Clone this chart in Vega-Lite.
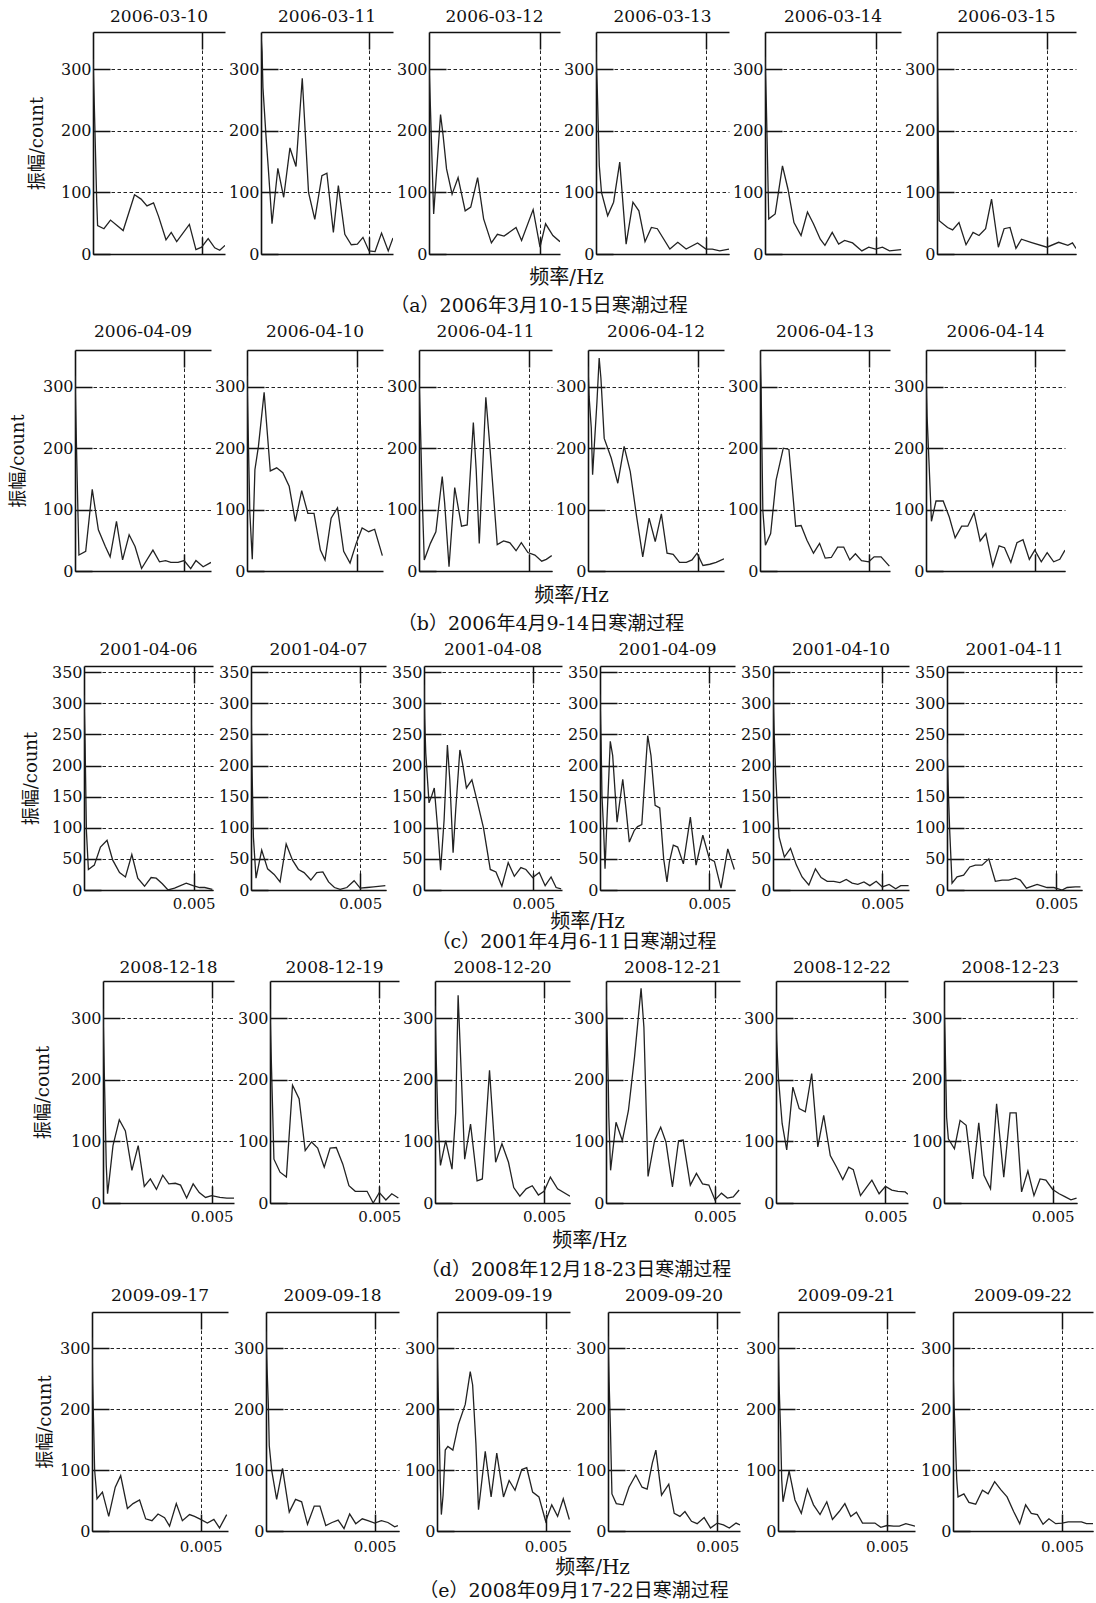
{
"$schema":"https://vega.github.io/schema/vega-lite/v6.json",
"background":"white",
"padding":{"left":9,"top":8,"right":4,"bottom":0},
"spacing":7,
"datasets":{
"2006-03-10":[{"f":0,"a":316},{"f":0.00006,"a":241},{"f":0.00017,"a":85},{"f":0.00021,"a":46},{"f":0.0005,"a":41},{"f":0.0008,"a":55},{"f":0.00138,"a":38},{"f":0.0019,"a":96},{"f":0.0022,"a":89},{"f":0.00247,"a":78},{"f":0.00277,"a":83},{"f":0.003,"a":61},{"f":0.00334,"a":23},{"f":0.00358,"a":35},{"f":0.00383,"a":20},{"f":0.00441,"a":48},{"f":0.00471,"a":7},{"f":0.00497,"a":11},{"f":0.00527,"a":25},{"f":0.00557,"a":10},{"f":0.0058,"a":6},{"f":0.00604,"a":14}],
"2006-03-11":[{"f":0,"a":355},{"f":0.00005,"a":327},{"f":0.00009,"a":270},{"f":0.00023,"a":192},{"f":0.00034,"a":138},{"f":0.00051,"a":49},{"f":0.00078,"a":139},{"f":0.00105,"a":92},{"f":0.00134,"a":172},{"f":0.00162,"a":142},{"f":0.00191,"a":285},{"f":0.0022,"a":100},{"f":0.00249,"a":56},{"f":0.00282,"a":127},{"f":0.00305,"a":131},{"f":0.00335,"a":35},{"f":0.00358,"a":111},{"f":0.00388,"a":32},{"f":0.00418,"a":15},{"f":0.00446,"a":16},{"f":0.00472,"a":27},{"f":0.005,"a":5},{"f":0.00528,"a":4},{"f":0.00558,"a":34},{"f":0.00589,"a":5},{"f":0.00611,"a":26}],
"2006-03-12":[{"f":0,"a":308},{"f":0.00006,"a":242},{"f":0.00021,"a":65},{"f":0.00052,"a":226},{"f":0.00063,"a":194},{"f":0.00079,"a":138},{"f":0.00104,"a":97},{"f":0.00131,"a":124},{"f":0.00163,"a":70},{"f":0.00188,"a":76},{"f":0.00219,"a":124},{"f":0.00246,"a":57},{"f":0.00281,"a":18},{"f":0.00308,"a":32},{"f":0.00338,"a":29},{"f":0.00365,"a":36},{"f":0.00392,"a":43},{"f":0.00417,"a":22},{"f":0.00469,"a":72},{"f":0.005,"a":11},{"f":0.00525,"a":49},{"f":0.00558,"a":30},{"f":0.0059,"a":20}],
"2006-03-13":[{"f":0,"a":328},{"f":0.00006,"a":265},{"f":0.00015,"a":143},{"f":0.00025,"a":100},{"f":0.00053,"a":62},{"f":0.0008,"a":84},{"f":0.00108,"a":149},{"f":0.00137,"a":16},{"f":0.00168,"a":84},{"f":0.00195,"a":70},{"f":0.00223,"a":20},{"f":0.00252,"a":43},{"f":0.00279,"a":41},{"f":0.00336,"a":8},{"f":0.00372,"a":19},{"f":0.0041,"a":8},{"f":0.00462,"a":18},{"f":0.005,"a":8},{"f":0.00529,"a":8},{"f":0.00563,"a":5},{"f":0.00605,"a":8}],
"2006-03-14":[{"f":0,"a":320},{"f":0.00006,"a":243},{"f":0.00017,"a":57},{"f":0.00046,"a":65},{"f":0.00079,"a":143},{"f":0.00104,"a":105},{"f":0.00131,"a":51},{"f":0.00163,"a":30},{"f":0.00192,"a":68},{"f":0.00219,"a":49},{"f":0.0025,"a":24},{"f":0.00271,"a":14},{"f":0.00304,"a":35},{"f":0.00333,"a":16},{"f":0.0036,"a":22},{"f":0.00396,"a":18},{"f":0.00438,"a":5},{"f":0.00469,"a":11},{"f":0.005,"a":8},{"f":0.00531,"a":11},{"f":0.00563,"a":5},{"f":0.00615,"a":7}],
"2006-03-15":[{"f":0,"a":357},{"f":0.0001,"a":54},{"f":0.00048,"a":43},{"f":0.00071,"a":39},{"f":0.001,"a":51},{"f":0.00132,"a":15},{"f":0.00164,"a":35},{"f":0.00191,"a":30},{"f":0.00221,"a":41},{"f":0.00248,"a":89},{"f":0.00279,"a":11},{"f":0.00305,"a":41},{"f":0.00332,"a":43},{"f":0.00359,"a":9},{"f":0.00384,"a":24},{"f":0.00427,"a":19},{"f":0.005,"a":11},{"f":0.00553,"a":19},{"f":0.00595,"a":14},{"f":0.00616,"a":18},{"f":0.00632,"a":9}],
"2006-04-09":[{"f":0,"a":318},{"f":0.00005,"a":233},{"f":0.0001,"a":149},{"f":0.00018,"a":26},{"f":0.00049,"a":32},{"f":0.00079,"a":133},{"f":0.00107,"a":67},{"f":0.00139,"a":40},{"f":0.00161,"a":23},{"f":0.0019,"a":81},{"f":0.00218,"a":18},{"f":0.00248,"a":59},{"f":0.00275,"a":40},{"f":0.00305,"a":4},{"f":0.00357,"a":34},{"f":0.00387,"a":15},{"f":0.00415,"a":17},{"f":0.00439,"a":14},{"f":0.00472,"a":14},{"f":0.005,"a":17},{"f":0.0053,"a":4},{"f":0.00554,"a":17},{"f":0.00587,"a":7},{"f":0.00623,"a":14}],
"2006-04-10":[{"f":0,"a":318},{"f":0.00005,"a":233},{"f":0.00013,"a":94},{"f":0.00024,"a":19},{"f":0.00036,"a":165},{"f":0.00052,"a":203},{"f":0.00078,"a":291},{"f":0.00106,"a":163},{"f":0.00135,"a":168},{"f":0.00163,"a":160},{"f":0.00192,"a":138},{"f":0.0022,"a":81},{"f":0.00249,"a":131},{"f":0.00277,"a":94},{"f":0.00305,"a":94},{"f":0.00334,"a":34},{"f":0.00355,"a":18},{"f":0.00383,"a":86},{"f":0.00412,"a":103},{"f":0.0044,"a":32},{"f":0.00469,"a":13},{"f":0.00497,"a":45},{"f":0.00524,"a":70},{"f":0.00554,"a":64},{"f":0.00581,"a":68},{"f":0.00616,"a":25}],
"2006-04-11":[{"f":0,"a":315},{"f":0.00007,"a":231},{"f":0.00015,"a":116},{"f":0.00024,"a":18},{"f":0.00052,"a":45},{"f":0.00077,"a":64},{"f":0.00106,"a":154},{"f":0.00117,"a":111},{"f":0.00137,"a":7},{"f":0.00163,"a":136},{"f":0.00194,"a":73},{"f":0.0022,"a":75},{"f":0.00248,"a":242},{"f":0.00261,"a":165},{"f":0.00275,"a":45},{"f":0.00305,"a":283},{"f":0.00321,"a":214},{"f":0.00357,"a":43},{"f":0.00386,"a":49},{"f":0.00415,"a":46},{"f":0.00443,"a":33},{"f":0.00467,"a":46},{"f":0.00497,"a":30},{"f":0.00529,"a":26},{"f":0.0056,"a":16},{"f":0.00581,"a":19},{"f":0.00606,"a":25}],
"2006-04-12":[{"f":0,"a":333},{"f":0.00005,"a":284},{"f":0.00015,"a":233},{"f":0.00021,"a":157},{"f":0.00029,"a":205},{"f":0.00041,"a":276},{"f":0.00051,"a":347},{"f":0.00059,"a":314},{"f":0.00074,"a":216},{"f":0.00106,"a":184},{"f":0.00136,"a":143},{"f":0.00165,"a":203},{"f":0.00193,"a":162},{"f":0.00221,"a":91},{"f":0.0025,"a":23},{"f":0.00279,"a":86},{"f":0.00307,"a":48},{"f":0.00335,"a":93},{"f":0.00361,"a":29},{"f":0.00389,"a":27},{"f":0.00418,"a":14},{"f":0.00449,"a":14},{"f":0.00475,"a":18},{"f":0.00498,"a":29},{"f":0.00525,"a":9},{"f":0.00556,"a":11},{"f":0.00585,"a":14},{"f":0.00621,"a":20}],
"2006-04-13":[{"f":0,"a":360},{"f":0.00005,"a":300},{"f":0.00013,"a":99},{"f":0.00025,"a":42},{"f":0.00049,"a":61},{"f":0.00074,"a":148},{"f":0.00107,"a":200},{"f":0.00133,"a":198},{"f":0.00164,"a":73},{"f":0.00189,"a":74},{"f":0.00216,"a":50},{"f":0.00246,"a":29},{"f":0.00274,"a":45},{"f":0.003,"a":21},{"f":0.00328,"a":22},{"f":0.00357,"a":39},{"f":0.00385,"a":39},{"f":0.00413,"a":18},{"f":0.00439,"a":28},{"f":0.00467,"a":17},{"f":0.005,"a":15},{"f":0.00525,"a":23},{"f":0.00557,"a":23},{"f":0.00595,"a":8}],
"2006-04-14":[{"f":0,"a":322},{"f":0.00005,"a":252},{"f":0.00013,"a":184},{"f":0.00025,"a":81},{"f":0.00046,"a":114},{"f":0.00079,"a":114},{"f":0.00107,"a":88},{"f":0.00134,"a":54},{"f":0.00164,"a":73},{"f":0.00192,"a":73},{"f":0.00221,"a":95},{"f":0.00249,"a":49},{"f":0.00275,"a":61},{"f":0.00307,"a":8},{"f":0.00336,"a":41},{"f":0.00361,"a":38},{"f":0.0039,"a":14},{"f":0.00418,"a":46},{"f":0.00446,"a":51},{"f":0.00475,"a":19},{"f":0.005,"a":34},{"f":0.0053,"a":15},{"f":0.00557,"a":30},{"f":0.00587,"a":15},{"f":0.00615,"a":19},{"f":0.00639,"a":34}],
"2001-04-06":[{"f":0,"a":313},{"f":0.00005,"a":233},{"f":0.00011,"a":95},{"f":0.0002,"a":33},{"f":0.00047,"a":40},{"f":0.00075,"a":69},{"f":0.00105,"a":80},{"f":0.00131,"a":48},{"f":0.00162,"a":28},{"f":0.00189,"a":21},{"f":0.00218,"a":57},{"f":0.00245,"a":19},{"f":0.00276,"a":6},{"f":0.00306,"a":20},{"f":0.00329,"a":19},{"f":0.00357,"a":10},{"f":0.00383,"a":0},{"f":0.00413,"a":3},{"f":0.00466,"a":11},{"f":0.00497,"a":7},{"f":0.00527,"a":4},{"f":0.0055,"a":4},{"f":0.00585,"a":1}],
"2001-04-07":[{"f":0,"a":303},{"f":0.00005,"a":191},{"f":0.00011,"a":85},{"f":0.00023,"a":19},{"f":0.00049,"a":64},{"f":0.00076,"a":34},{"f":0.00106,"a":25},{"f":0.00133,"a":13},{"f":0.00161,"a":74},{"f":0.0019,"a":48},{"f":0.00217,"a":33},{"f":0.00243,"a":28},{"f":0.00274,"a":16},{"f":0.00301,"a":28},{"f":0.00329,"a":29},{"f":0.00355,"a":13},{"f":0.00382,"a":4},{"f":0.00408,"a":1},{"f":0.00439,"a":4},{"f":0.00472,"a":15},{"f":0.005,"a":3},{"f":0.00531,"a":4},{"f":0.00561,"a":5},{"f":0.00615,"a":7}],
"2001-04-08":[{"f":0,"a":330},{"f":0.00003,"a":276},{"f":0.00008,"a":220},{"f":0.00023,"a":140},{"f":0.00035,"a":151},{"f":0.00047,"a":164},{"f":0.00064,"a":92},{"f":0.00076,"a":32},{"f":0.00092,"a":113},{"f":0.00107,"a":233},{"f":0.00118,"a":177},{"f":0.00133,"a":60},{"f":0.00145,"a":129},{"f":0.00164,"a":225},{"f":0.00176,"a":204},{"f":0.00194,"a":164},{"f":0.00219,"a":177},{"f":0.00245,"a":140},{"f":0.00272,"a":100},{"f":0.00303,"a":33},{"f":0.00329,"a":29},{"f":0.00356,"a":6},{"f":0.00385,"a":44},{"f":0.00413,"a":22},{"f":0.00443,"a":36},{"f":0.00466,"a":33},{"f":0.00497,"a":20},{"f":0.00527,"a":28},{"f":0.00554,"a":7},{"f":0.00581,"a":21},{"f":0.00604,"a":4},{"f":0.00627,"a":2}],
"2001-04-09":[{"f":0,"a":314},{"f":0.00005,"a":236},{"f":0.00009,"a":152},{"f":0.00017,"a":93},{"f":0.00023,"a":34},{"f":0.00032,"a":114},{"f":0.00047,"a":239},{"f":0.00058,"a":216},{"f":0.00078,"a":109},{"f":0.00104,"a":178},{"f":0.00119,"a":130},{"f":0.00134,"a":77},{"f":0.00157,"a":96},{"f":0.00172,"a":102},{"f":0.00191,"a":105},{"f":0.00218,"a":248},{"f":0.00233,"a":216},{"f":0.00252,"a":136},{"f":0.00273,"a":132},{"f":0.00291,"a":50},{"f":0.00306,"a":13},{"f":0.00317,"a":45},{"f":0.00335,"a":72},{"f":0.00355,"a":69},{"f":0.00381,"a":42},{"f":0.00413,"a":117},{"f":0.00439,"a":40},{"f":0.0047,"a":88},{"f":0.005,"a":50},{"f":0.00523,"a":46},{"f":0.00553,"a":3},{"f":0.00584,"a":66},{"f":0.00614,"a":33}],
"2001-04-10":[{"f":0,"a":326},{"f":0.00005,"a":257},{"f":0.00012,"a":188},{"f":0.00021,"a":122},{"f":0.00028,"a":85},{"f":0.00052,"a":53},{"f":0.0008,"a":67},{"f":0.00107,"a":40},{"f":0.00133,"a":21},{"f":0.00164,"a":8},{"f":0.00194,"a":34},{"f":0.0022,"a":20},{"f":0.00248,"a":14},{"f":0.00278,"a":14},{"f":0.00306,"a":12},{"f":0.00335,"a":17},{"f":0.00362,"a":11},{"f":0.00388,"a":9},{"f":0.00416,"a":13},{"f":0.00443,"a":7},{"f":0.00472,"a":14},{"f":0.005,"a":5},{"f":0.00531,"a":9},{"f":0.00561,"a":2},{"f":0.00584,"a":7},{"f":0.0062,"a":7}],
"2001-04-11":[{"f":0,"a":236},{"f":0.00005,"a":170},{"f":0.00012,"a":98},{"f":0.00023,"a":11},{"f":0.00046,"a":21},{"f":0.00076,"a":24},{"f":0.00104,"a":37},{"f":0.0013,"a":40},{"f":0.0016,"a":40},{"f":0.00191,"a":50},{"f":0.00221,"a":14},{"f":0.00252,"a":16},{"f":0.00282,"a":16},{"f":0.00313,"a":19},{"f":0.00335,"a":16},{"f":0.00363,"a":3},{"f":0.00412,"a":9},{"f":0.00457,"a":4},{"f":0.00488,"a":4},{"f":0.00526,"a":0},{"f":0.00549,"a":4},{"f":0.00587,"a":5},{"f":0.0061,"a":5}],
"2008-12-18":[{"f":0,"a":315},{"f":0.00005,"a":228},{"f":0.0001,"a":145},{"f":0.00015,"a":61},{"f":0.00021,"a":15},{"f":0.0003,"a":42},{"f":0.00046,"a":93},{"f":0.00075,"a":135},{"f":0.00103,"a":117},{"f":0.00133,"a":53},{"f":0.00162,"a":93},{"f":0.0019,"a":27},{"f":0.00218,"a":39},{"f":0.00246,"a":22},{"f":0.00275,"a":45},{"f":0.00303,"a":31},{"f":0.00333,"a":32},{"f":0.00357,"a":29},{"f":0.00385,"a":8},{"f":0.00415,"a":31},{"f":0.00443,"a":17},{"f":0.00472,"a":9},{"f":0.005,"a":12},{"f":0.00538,"a":9},{"f":0.0057,"a":8},{"f":0.00603,"a":8}],
"2008-12-19":[{"f":0,"a":315},{"f":0.00005,"a":245},{"f":0.00011,"a":164},{"f":0.00018,"a":71},{"f":0.00046,"a":50},{"f":0.00075,"a":42},{"f":0.00103,"a":191},{"f":0.00133,"a":169},{"f":0.00161,"a":85},{"f":0.0019,"a":99},{"f":0.00218,"a":89},{"f":0.00248,"a":58},{"f":0.00275,"a":89},{"f":0.00303,"a":90},{"f":0.00333,"a":63},{"f":0.00361,"a":28},{"f":0.0039,"a":19},{"f":0.00444,"a":19},{"f":0.00472,"a":0},{"f":0.005,"a":17},{"f":0.0053,"a":5},{"f":0.00557,"a":15},{"f":0.00587,"a":8}],
"2008-12-20":[{"f":0,"a":320},{"f":0.00005,"a":242},{"f":0.00013,"a":136},{"f":0.00025,"a":61},{"f":0.00049,"a":101},{"f":0.00078,"a":55},{"f":0.00095,"a":147},{"f":0.00106,"a":337},{"f":0.00114,"a":266},{"f":0.00136,"a":71},{"f":0.00163,"a":128},{"f":0.00193,"a":36},{"f":0.00217,"a":39},{"f":0.0025,"a":215},{"f":0.00278,"a":66},{"f":0.00307,"a":96},{"f":0.00337,"a":66},{"f":0.00361,"a":25},{"f":0.00389,"a":11},{"f":0.00418,"a":23},{"f":0.00446,"a":28},{"f":0.00474,"a":13},{"f":0.005,"a":19},{"f":0.00529,"a":42},{"f":0.00562,"a":23},{"f":0.00619,"a":11}],
"2008-12-21":[{"f":0,"a":356},{"f":0.00005,"a":280},{"f":0.0001,"a":204},{"f":0.00013,"a":139},{"f":0.00021,"a":53},{"f":0.00046,"a":131},{"f":0.00075,"a":101},{"f":0.00103,"a":150},{"f":0.00131,"a":237},{"f":0.00161,"a":348},{"f":0.00174,"a":285},{"f":0.00193,"a":43},{"f":0.00223,"a":101},{"f":0.00251,"a":123},{"f":0.00275,"a":99},{"f":0.00305,"a":26},{"f":0.00333,"a":101},{"f":0.00354,"a":102},{"f":0.00387,"a":29},{"f":0.00415,"a":48},{"f":0.00443,"a":31},{"f":0.00472,"a":29},{"f":0.005,"a":5},{"f":0.0053,"a":16},{"f":0.00557,"a":8},{"f":0.00584,"a":10},{"f":0.00611,"a":21}],
"2008-12-22":[{"f":0,"a":302},{"f":0.00003,"a":264},{"f":0.00011,"a":204},{"f":0.00028,"a":129},{"f":0.00049,"a":86},{"f":0.00077,"a":188},{"f":0.00106,"a":153},{"f":0.00134,"a":148},{"f":0.00163,"a":210},{"f":0.00191,"a":91},{"f":0.00218,"a":142},{"f":0.00248,"a":77},{"f":0.00277,"a":58},{"f":0.00305,"a":38},{"f":0.00332,"a":58},{"f":0.00353,"a":54},{"f":0.00386,"a":12},{"f":0.00415,"a":26},{"f":0.00438,"a":37},{"f":0.00471,"a":15},{"f":0.005,"a":27},{"f":0.00529,"a":21},{"f":0.00557,"a":19},{"f":0.0059,"a":18},{"f":0.00603,"a":14}],
"2008-12-23":[{"f":0,"a":329},{"f":0.00005,"a":264},{"f":0.00012,"a":139},{"f":0.0002,"a":104},{"f":0.00048,"a":88},{"f":0.00074,"a":134},{"f":0.00102,"a":126},{"f":0.00132,"a":39},{"f":0.0016,"a":130},{"f":0.00184,"a":45},{"f":0.00214,"a":23},{"f":0.00242,"a":161},{"f":0.00275,"a":42},{"f":0.00304,"a":146},{"f":0.00332,"a":146},{"f":0.00357,"a":18},{"f":0.00386,"a":52},{"f":0.00414,"a":12},{"f":0.00442,"a":39},{"f":0.00469,"a":37},{"f":0.005,"a":22},{"f":0.0053,"a":15},{"f":0.00558,"a":10},{"f":0.00584,"a":5},{"f":0.0061,"a":8}],
"2009-09-17":[{"f":0,"a":318},{"f":0.00003,"a":243},{"f":0.00008,"a":166},{"f":0.00012,"a":101},{"f":0.00023,"a":53},{"f":0.00048,"a":64},{"f":0.00077,"a":24},{"f":0.00107,"a":72},{"f":0.00132,"a":91},{"f":0.00163,"a":37},{"f":0.00189,"a":45},{"f":0.00219,"a":51},{"f":0.00247,"a":20},{"f":0.00276,"a":17},{"f":0.00304,"a":28},{"f":0.00334,"a":22},{"f":0.00357,"a":8},{"f":0.00388,"a":45},{"f":0.00416,"a":17},{"f":0.00449,"a":27},{"f":0.00472,"a":24},{"f":0.005,"a":19},{"f":0.00531,"a":13},{"f":0.00561,"a":19},{"f":0.00587,"a":5},{"f":0.0062,"a":27}],
"2009-09-18":[{"f":0,"a":328},{"f":0.00005,"a":266},{"f":0.00011,"a":205},{"f":0.00015,"a":140},{"f":0.00026,"a":100},{"f":0.00049,"a":52},{"f":0.00076,"a":103},{"f":0.00107,"a":31},{"f":0.00136,"a":52},{"f":0.00164,"a":48},{"f":0.00191,"a":11},{"f":0.00222,"a":41},{"f":0.00248,"a":41},{"f":0.00275,"a":9},{"f":0.00304,"a":14},{"f":0.00332,"a":18},{"f":0.00359,"a":4},{"f":0.00385,"a":28},{"f":0.00413,"a":12},{"f":0.00443,"a":20},{"f":0.00469,"a":17},{"f":0.005,"a":13},{"f":0.00531,"a":17},{"f":0.00561,"a":14},{"f":0.00592,"a":7},{"f":0.00607,"a":9}],
"2009-09-19":[{"f":0,"a":318},{"f":0.00005,"a":235},{"f":0.00011,"a":149},{"f":0.00015,"a":80},{"f":0.0002,"a":27},{"f":0.00028,"a":59},{"f":0.00038,"a":133},{"f":0.0005,"a":139},{"f":0.00073,"a":133},{"f":0.00099,"a":176},{"f":0.0013,"a":208},{"f":0.00153,"a":262},{"f":0.00164,"a":240},{"f":0.00179,"a":144},{"f":0.00191,"a":35},{"f":0.00222,"a":131},{"f":0.00249,"a":56},{"f":0.00275,"a":128},{"f":0.00306,"a":56},{"f":0.00332,"a":83},{"f":0.00359,"a":67},{"f":0.0039,"a":101},{"f":0.00413,"a":104},{"f":0.0044,"a":64},{"f":0.00469,"a":56},{"f":0.005,"a":16},{"f":0.00528,"a":43},{"f":0.00555,"a":24},{"f":0.00581,"a":53},{"f":0.00609,"a":19}],
"2009-09-20":[{"f":0,"a":320},{"f":0.00005,"a":246},{"f":0.00011,"a":171},{"f":0.00018,"a":61},{"f":0.00038,"a":45},{"f":0.00069,"a":43},{"f":0.00096,"a":72},{"f":0.00127,"a":92},{"f":0.00156,"a":72},{"f":0.00179,"a":69},{"f":0.00203,"a":112},{"f":0.00219,"a":133},{"f":0.00245,"a":59},{"f":0.00278,"a":77},{"f":0.00303,"a":29},{"f":0.00329,"a":24},{"f":0.00352,"a":32},{"f":0.00382,"a":16},{"f":0.00408,"a":12},{"f":0.0044,"a":22},{"f":0.00469,"a":5},{"f":0.005,"a":13},{"f":0.00528,"a":10},{"f":0.00555,"a":5},{"f":0.00586,"a":13},{"f":0.00604,"a":10}],
"2009-09-21":[{"f":0,"a":318},{"f":0.00005,"a":240},{"f":0.00012,"a":163},{"f":0.00017,"a":85},{"f":0.00023,"a":48},{"f":0.00051,"a":99},{"f":0.00078,"a":51},{"f":0.00107,"a":29},{"f":0.00135,"a":69},{"f":0.00163,"a":43},{"f":0.00193,"a":27},{"f":0.00224,"a":48},{"f":0.0025,"a":19},{"f":0.00281,"a":32},{"f":0.00307,"a":45},{"f":0.00334,"a":24},{"f":0.0036,"a":31},{"f":0.00388,"a":13},{"f":0.00445,"a":13},{"f":0.00472,"a":6},{"f":0.005,"a":9},{"f":0.00531,"a":8},{"f":0.00557,"a":8},{"f":0.00587,"a":12},{"f":0.00629,"a":8}],
"2009-09-22":[{"f":0,"a":270},{"f":0.00005,"a":206},{"f":0.00011,"a":147},{"f":0.00017,"a":85},{"f":0.00023,"a":56},{"f":0.0005,"a":61},{"f":0.00073,"a":47},{"f":0.00104,"a":44},{"f":0.00135,"a":67},{"f":0.00161,"a":61},{"f":0.00191,"a":81},{"f":0.00219,"a":68},{"f":0.00248,"a":56},{"f":0.00278,"a":32},{"f":0.00306,"a":12},{"f":0.00333,"a":43},{"f":0.00359,"a":29},{"f":0.00387,"a":27},{"f":0.00413,"a":11},{"f":0.0044,"a":20},{"f":0.00471,"a":12},{"f":0.005,"a":13},{"f":0.00528,"a":15},{"f":0.00558,"a":15},{"f":0.00589,"a":15},{"f":0.00612,"a":12},{"f":0.00642,"a":12}]
},
"vconcat":[
{"hconcat":[
{"width":47,"height":10,"data":{"values":[]},"mark":{"type":"point","opacity":0}},
{"width":132,"height":222,"data":{"name":"2006-03-10"},"title":{"text":"2006-03-10","offset":5},"resolve":{"axis":{"x":"independent","y":"independent"}},"layer":[{"mark":{"type":"line","clip":true},"encoding":{"x":{"field":"f","type":"quantitative","scale":{"domain":[0,0.00604],"nice":false,"zero":false},"axis":{"values":[0.005],"grid":true,"labels":false,"title":null}},"y":{"field":"a","type":"quantitative","scale":{"domain":[0,360],"nice":false},"axis":{"values":[0,100,200,300],"grid":true,"title":"振幅/count","titleFontSize":18,"titlePadding":13,"minExtent":34,"maxExtent":34}}}},{"mark":{"type":"line","strokeOpacity":0},"encoding":{"x":{"field":"f","type":"quantitative","axis":{"orient":"top","values":[0.005],"labels":false,"grid":false,"title":null}},"y":{"field":"a","type":"quantitative","axis":null}}}]},
{"width":132,"height":222,"data":{"name":"2006-03-11"},"title":{"text":"2006-03-11","offset":5},"resolve":{"axis":{"x":"independent","y":"independent"}},"layer":[{"mark":{"type":"line","clip":true},"encoding":{"x":{"field":"f","type":"quantitative","scale":{"domain":[0,0.00611],"nice":false,"zero":false},"axis":{"values":[0.005],"grid":true,"labels":false,"title":null}},"y":{"field":"a","type":"quantitative","scale":{"domain":[0,360],"nice":false},"axis":{"values":[0,100,200,300],"grid":true,"title":null}}}},{"mark":{"type":"line","strokeOpacity":0},"encoding":{"x":{"field":"f","type":"quantitative","axis":{"orient":"top","values":[0.005],"labels":false,"grid":false,"title":null}},"y":{"field":"a","type":"quantitative","axis":null}}}]},
{"width":131,"height":222,"data":{"name":"2006-03-12"},"title":{"text":"2006-03-12","offset":5},"resolve":{"axis":{"x":"independent","y":"independent"}},"layer":[{"mark":{"type":"line","clip":true},"encoding":{"x":{"field":"f","type":"quantitative","scale":{"domain":[0,0.0059],"nice":false,"zero":false},"axis":{"values":[0.005],"grid":true,"labels":false,"title":"频率/Hz","titleFontSize":20,"titleX":137,"titlePadding":0,"minExtent":13,"maxExtent":13}},"y":{"field":"a","type":"quantitative","scale":{"domain":[0,360],"nice":false},"axis":{"values":[0,100,200,300],"grid":true,"title":null}}}},{"mark":{"type":"line","strokeOpacity":0},"encoding":{"x":{"field":"f","type":"quantitative","axis":{"orient":"top","values":[0.005],"labels":false,"grid":false,"title":null}},"y":{"field":"a","type":"quantitative","axis":null}}}]},
{"width":133,"height":222,"data":{"name":"2006-03-13"},"title":{"text":"2006-03-13","offset":5},"resolve":{"axis":{"x":"independent","y":"independent"}},"layer":[{"mark":{"type":"line","clip":true},"encoding":{"x":{"field":"f","type":"quantitative","scale":{"domain":[0,0.00605],"nice":false,"zero":false},"axis":{"values":[0.005],"grid":true,"labels":false,"title":null}},"y":{"field":"a","type":"quantitative","scale":{"domain":[0,360],"nice":false},"axis":{"values":[0,100,200,300],"grid":true,"title":null}}}},{"mark":{"type":"line","strokeOpacity":0},"encoding":{"x":{"field":"f","type":"quantitative","axis":{"orient":"top","values":[0.005],"labels":false,"grid":false,"title":null}},"y":{"field":"a","type":"quantitative","axis":null}}}]},
{"width":136,"height":222,"data":{"name":"2006-03-14"},"title":{"text":"2006-03-14","offset":5},"resolve":{"axis":{"x":"independent","y":"independent"}},"layer":[{"mark":{"type":"line","clip":true},"encoding":{"x":{"field":"f","type":"quantitative","scale":{"domain":[0,0.00615],"nice":false,"zero":false},"axis":{"values":[0.005],"grid":true,"labels":false,"title":null}},"y":{"field":"a","type":"quantitative","scale":{"domain":[0,360],"nice":false},"axis":{"values":[0,100,200,300],"grid":true,"title":null}}}},{"mark":{"type":"line","strokeOpacity":0},"encoding":{"x":{"field":"f","type":"quantitative","axis":{"orient":"top","values":[0.005],"labels":false,"grid":false,"title":null}},"y":{"field":"a","type":"quantitative","axis":null}}}]},
{"width":139,"height":222,"data":{"name":"2006-03-15"},"title":{"text":"2006-03-15","offset":5},"resolve":{"axis":{"x":"independent","y":"independent"}},"layer":[{"mark":{"type":"line","clip":true},"encoding":{"x":{"field":"f","type":"quantitative","scale":{"domain":[0,0.00632],"nice":false,"zero":false},"axis":{"values":[0.005],"grid":true,"labels":false,"title":null}},"y":{"field":"a","type":"quantitative","scale":{"domain":[0,360],"nice":false},"axis":{"values":[0,100,200,300],"grid":true,"title":null}}}},{"mark":{"type":"line","strokeOpacity":0},"encoding":{"x":{"field":"f","type":"quantitative","axis":{"orient":"top","values":[0.005],"labels":false,"grid":false,"title":null}},"y":{"field":"a","type":"quantitative","axis":null}}}]}
],"spacing":36,"bounds":"flush","title":{"text":"（a）2006年3月10-15日寒潮过程","orient":"bottom","anchor":"start","frame":"group","align":"center","dx":529,"offset":10,"fontSize":19,"font":"DejaVu Serif, Noto Sans CJK SC"}},
{"hconcat":[
{"width":29,"height":10,"data":{"values":[]},"mark":{"type":"point","opacity":0}},
{"width":136,"height":221,"data":{"name":"2006-04-09"},"title":{"text":"2006-04-09","offset":8},"resolve":{"axis":{"x":"independent","y":"independent"}},"layer":[{"mark":{"type":"line","clip":true},"encoding":{"x":{"field":"f","type":"quantitative","scale":{"domain":[0,0.00623],"nice":false,"zero":false},"axis":{"values":[0.005],"grid":true,"labels":false,"title":null}},"y":{"field":"a","type":"quantitative","scale":{"domain":[0,360],"nice":false},"axis":{"values":[0,100,200,300],"grid":true,"title":"振幅/count","titleFontSize":18,"titlePadding":14,"minExtent":34,"maxExtent":34}}}},{"mark":{"type":"line","strokeOpacity":0},"encoding":{"x":{"field":"f","type":"quantitative","axis":{"orient":"top","values":[0.005],"labels":false,"grid":false,"title":null}},"y":{"field":"a","type":"quantitative","axis":null}}}]},
{"width":136,"height":221,"data":{"name":"2006-04-10"},"title":{"text":"2006-04-10","offset":8},"resolve":{"axis":{"x":"independent","y":"independent"}},"layer":[{"mark":{"type":"line","clip":true},"encoding":{"x":{"field":"f","type":"quantitative","scale":{"domain":[0,0.00619],"nice":false,"zero":false},"axis":{"values":[0.005],"grid":true,"labels":false,"title":null}},"y":{"field":"a","type":"quantitative","scale":{"domain":[0,360],"nice":false},"axis":{"values":[0,100,200,300],"grid":true,"title":null}}}},{"mark":{"type":"line","strokeOpacity":0},"encoding":{"x":{"field":"f","type":"quantitative","axis":{"orient":"top","values":[0.005],"labels":false,"grid":false,"title":null}},"y":{"field":"a","type":"quantitative","axis":null}}}]},
{"width":133,"height":221,"data":{"name":"2006-04-11"},"title":{"text":"2006-04-11","offset":8},"resolve":{"axis":{"x":"independent","y":"independent"}},"layer":[{"mark":{"type":"line","clip":true},"encoding":{"x":{"field":"f","type":"quantitative","scale":{"domain":[0,0.00607],"nice":false,"zero":false},"axis":{"values":[0.005],"grid":true,"labels":false,"title":"频率/Hz","titleFontSize":20,"titleX":152,"titlePadding":0,"minExtent":14,"maxExtent":14}},"y":{"field":"a","type":"quantitative","scale":{"domain":[0,360],"nice":false},"axis":{"values":[0,100,200,300],"grid":true,"title":null}}}},{"mark":{"type":"line","strokeOpacity":0},"encoding":{"x":{"field":"f","type":"quantitative","axis":{"orient":"top","values":[0.005],"labels":false,"grid":false,"title":null}},"y":{"field":"a","type":"quantitative","axis":null}}}]},
{"width":136,"height":221,"data":{"name":"2006-04-12"},"title":{"text":"2006-04-12","offset":8},"resolve":{"axis":{"x":"independent","y":"independent"}},"layer":[{"mark":{"type":"line","clip":true},"encoding":{"x":{"field":"f","type":"quantitative","scale":{"domain":[0,0.00621],"nice":false,"zero":false},"axis":{"values":[0.005],"grid":true,"labels":false,"title":null}},"y":{"field":"a","type":"quantitative","scale":{"domain":[0,360],"nice":false},"axis":{"values":[0,100,200,300],"grid":true,"title":null}}}},{"mark":{"type":"line","strokeOpacity":0},"encoding":{"x":{"field":"f","type":"quantitative","axis":{"orient":"top","values":[0.005],"labels":false,"grid":false,"title":null}},"y":{"field":"a","type":"quantitative","axis":null}}}]},
{"width":130,"height":221,"data":{"name":"2006-04-13"},"title":{"text":"2006-04-13","offset":8},"resolve":{"axis":{"x":"independent","y":"independent"}},"layer":[{"mark":{"type":"line","clip":true},"encoding":{"x":{"field":"f","type":"quantitative","scale":{"domain":[0,0.00598],"nice":false,"zero":false},"axis":{"values":[0.005],"grid":true,"labels":false,"title":null}},"y":{"field":"a","type":"quantitative","scale":{"domain":[0,360],"nice":false},"axis":{"values":[0,100,200,300],"grid":true,"title":null}}}},{"mark":{"type":"line","strokeOpacity":0},"encoding":{"x":{"field":"f","type":"quantitative","axis":{"orient":"top","values":[0.005],"labels":false,"grid":false,"title":null}},"y":{"field":"a","type":"quantitative","axis":null}}}]},
{"width":139,"height":221,"data":{"name":"2006-04-14"},"title":{"text":"2006-04-14","offset":8},"resolve":{"axis":{"x":"independent","y":"independent"}},"layer":[{"mark":{"type":"line","clip":true},"encoding":{"x":{"field":"f","type":"quantitative","scale":{"domain":[0,0.00639],"nice":false,"zero":false},"axis":{"values":[0.005],"grid":true,"labels":false,"title":null}},"y":{"field":"a","type":"quantitative","scale":{"domain":[0,360],"nice":false},"axis":{"values":[0,100,200,300],"grid":true,"title":null}}}},{"mark":{"type":"line","strokeOpacity":0},"encoding":{"x":{"field":"f","type":"quantitative","axis":{"orient":"top","values":[0.005],"labels":false,"grid":false,"title":null}},"y":{"field":"a","type":"quantitative","axis":null}}}]}
],"spacing":36,"bounds":"flush","title":{"text":"（b）2006年4月9-14日寒潮过程","orient":"bottom","anchor":"start","frame":"group","align":"center","dx":531,"offset":10,"fontSize":19,"font":"DejaVu Serif, Noto Sans CJK SC"}},
{"hconcat":[
{"width":36,"height":10,"data":{"values":[]},"mark":{"type":"point","opacity":0}},
{"width":129,"height":224,"data":{"name":"2001-04-06"},"title":{"text":"2001-04-06","offset":5},"resolve":{"axis":{"x":"independent","y":"independent"}},"layer":[{"mark":{"type":"line","clip":true},"encoding":{"x":{"field":"f","type":"quantitative","scale":{"domain":[0,0.00588],"nice":false,"zero":false},"axis":{"values":[0.005],"grid":true,"format":".3f","title":null}},"y":{"field":"a","type":"quantitative","scale":{"domain":[0,360],"nice":false},"axis":{"values":[0,50,100,150,200,250,300,350],"grid":true,"title":"振幅/count","titleFontSize":18,"titlePadding":10,"minExtent":34,"maxExtent":34}}}},{"mark":{"type":"line","strokeOpacity":0},"encoding":{"x":{"field":"f","type":"quantitative","axis":{"orient":"top","values":[0.005],"labels":false,"grid":false,"title":null}},"y":{"field":"a","type":"quantitative","axis":null}}}]},
{"width":135,"height":224,"data":{"name":"2001-04-07"},"title":{"text":"2001-04-07","offset":5},"resolve":{"axis":{"x":"independent","y":"independent"}},"layer":[{"mark":{"type":"line","clip":true},"encoding":{"x":{"field":"f","type":"quantitative","scale":{"domain":[0,0.00618],"nice":false,"zero":false},"axis":{"values":[0.005],"grid":true,"format":".3f","title":null}},"y":{"field":"a","type":"quantitative","scale":{"domain":[0,360],"nice":false},"axis":{"values":[0,50,100,150,200,250,300,350],"grid":true,"title":null}}}},{"mark":{"type":"line","strokeOpacity":0},"encoding":{"x":{"field":"f","type":"quantitative","axis":{"orient":"top","values":[0.005],"labels":false,"grid":false,"title":null}},"y":{"field":"a","type":"quantitative","axis":null}}}]},
{"width":138,"height":224,"data":{"name":"2001-04-08"},"title":{"text":"2001-04-08","offset":5},"resolve":{"axis":{"x":"independent","y":"independent"}},"layer":[{"mark":{"type":"line","clip":true},"encoding":{"x":{"field":"f","type":"quantitative","scale":{"domain":[0,0.00631],"nice":false,"zero":false},"axis":{"values":[0.005],"grid":true,"format":".3f","title":"频率/Hz","titleFontSize":20,"titleX":163,"titlePadding":0,"minExtent":21,"maxExtent":21}},"y":{"field":"a","type":"quantitative","scale":{"domain":[0,360],"nice":false},"axis":{"values":[0,50,100,150,200,250,300,350],"grid":true,"title":null}}}},{"mark":{"type":"line","strokeOpacity":0},"encoding":{"x":{"field":"f","type":"quantitative","axis":{"orient":"top","values":[0.005],"labels":false,"grid":false,"title":null}},"y":{"field":"a","type":"quantitative","axis":null}}}]},
{"width":135,"height":224,"data":{"name":"2001-04-09"},"title":{"text":"2001-04-09","offset":5},"resolve":{"axis":{"x":"independent","y":"independent"}},"layer":[{"mark":{"type":"line","clip":true},"encoding":{"x":{"field":"f","type":"quantitative","scale":{"domain":[0,0.00617],"nice":false,"zero":false},"axis":{"values":[0.005],"grid":true,"format":".3f","title":null}},"y":{"field":"a","type":"quantitative","scale":{"domain":[0,360],"nice":false},"axis":{"values":[0,50,100,150,200,250,300,350],"grid":true,"title":null}}}},{"mark":{"type":"line","strokeOpacity":0},"encoding":{"x":{"field":"f","type":"quantitative","axis":{"orient":"top","values":[0.005],"labels":false,"grid":false,"title":null}},"y":{"field":"a","type":"quantitative","axis":null}}}]},
{"width":136,"height":224,"data":{"name":"2001-04-10"},"title":{"text":"2001-04-10","offset":5},"resolve":{"axis":{"x":"independent","y":"independent"}},"layer":[{"mark":{"type":"line","clip":true},"encoding":{"x":{"field":"f","type":"quantitative","scale":{"domain":[0,0.00622],"nice":false,"zero":false},"axis":{"values":[0.005],"grid":true,"format":".3f","title":null}},"y":{"field":"a","type":"quantitative","scale":{"domain":[0,360],"nice":false},"axis":{"values":[0,50,100,150,200,250,300,350],"grid":true,"title":null}}}},{"mark":{"type":"line","strokeOpacity":0},"encoding":{"x":{"field":"f","type":"quantitative","axis":{"orient":"top","values":[0.005],"labels":false,"grid":false,"title":null}},"y":{"field":"a","type":"quantitative","axis":null}}}]},
{"width":135,"height":224,"data":{"name":"2001-04-11"},"title":{"text":"2001-04-11","offset":5},"resolve":{"axis":{"x":"independent","y":"independent"}},"layer":[{"mark":{"type":"line","clip":true},"encoding":{"x":{"field":"f","type":"quantitative","scale":{"domain":[0,0.00617],"nice":false,"zero":false},"axis":{"values":[0.005],"grid":true,"format":".3f","title":null}},"y":{"field":"a","type":"quantitative","scale":{"domain":[0,360],"nice":false},"axis":{"values":[0,50,100,150,200,250,300,350],"grid":true,"title":null}}}},{"mark":{"type":"line","strokeOpacity":0},"encoding":{"x":{"field":"f","type":"quantitative","axis":{"orient":"top","values":[0.005],"labels":false,"grid":false,"title":null}},"y":{"field":"a","type":"quantitative","axis":null}}}]}
],"spacing":38,"bounds":"flush","title":{"text":"（c）2001年4月6-11日寒潮过程","orient":"bottom","anchor":"start","frame":"group","align":"center","dx":564,"offset":2,"fontSize":19,"font":"DejaVu Serif, Noto Sans CJK SC"}},
{"hconcat":[
{"width":57,"height":10,"data":{"values":[]},"mark":{"type":"point","opacity":0}},
{"width":131,"height":222,"data":{"name":"2008-12-18"},"title":{"text":"2008-12-18","offset":3},"resolve":{"axis":{"x":"independent","y":"independent"}},"layer":[{"mark":{"type":"line","clip":true},"encoding":{"x":{"field":"f","type":"quantitative","scale":{"domain":[0,0.00603],"nice":false,"zero":false},"axis":{"values":[0.005],"grid":true,"format":".3f","title":null}},"y":{"field":"a","type":"quantitative","scale":{"domain":[0,360],"nice":false},"axis":{"values":[0,100,200,300],"grid":true,"title":"振幅/count","titleFontSize":18,"titlePadding":17,"minExtent":34,"maxExtent":34}}}},{"mark":{"type":"line","strokeOpacity":0},"encoding":{"x":{"field":"f","type":"quantitative","axis":{"orient":"top","values":[0.005],"labels":false,"grid":false,"title":null}},"y":{"field":"a","type":"quantitative","axis":null}}}]},
{"width":129,"height":222,"data":{"name":"2008-12-19"},"title":{"text":"2008-12-19","offset":3},"resolve":{"axis":{"x":"independent","y":"independent"}},"layer":[{"mark":{"type":"line","clip":true},"encoding":{"x":{"field":"f","type":"quantitative","scale":{"domain":[0,0.0059],"nice":false,"zero":false},"axis":{"values":[0.005],"grid":true,"format":".3f","title":null}},"y":{"field":"a","type":"quantitative","scale":{"domain":[0,360],"nice":false},"axis":{"values":[0,100,200,300],"grid":true,"title":null}}}},{"mark":{"type":"line","strokeOpacity":0},"encoding":{"x":{"field":"f","type":"quantitative","axis":{"orient":"top","values":[0.005],"labels":false,"grid":false,"title":null}},"y":{"field":"a","type":"quantitative","axis":null}}}]},
{"width":135,"height":222,"data":{"name":"2008-12-20"},"title":{"text":"2008-12-20","offset":3},"resolve":{"axis":{"x":"independent","y":"independent"}},"layer":[{"mark":{"type":"line","clip":true},"encoding":{"x":{"field":"f","type":"quantitative","scale":{"domain":[0,0.00619],"nice":false,"zero":false},"axis":{"values":[0.005],"grid":true,"format":".3f","title":"频率/Hz","titleFontSize":20,"titleX":154,"titlePadding":0,"minExtent":27,"maxExtent":27}},"y":{"field":"a","type":"quantitative","scale":{"domain":[0,360],"nice":false},"axis":{"values":[0,100,200,300],"grid":true,"title":null}}}},{"mark":{"type":"line","strokeOpacity":0},"encoding":{"x":{"field":"f","type":"quantitative","axis":{"orient":"top","values":[0.005],"labels":false,"grid":false,"title":null}},"y":{"field":"a","type":"quantitative","axis":null}}}]},
{"width":134,"height":222,"data":{"name":"2008-12-21"},"title":{"text":"2008-12-21","offset":3},"resolve":{"axis":{"x":"independent","y":"independent"}},"layer":[{"mark":{"type":"line","clip":true},"encoding":{"x":{"field":"f","type":"quantitative","scale":{"domain":[0,0.00615],"nice":false,"zero":false},"axis":{"values":[0.005],"grid":true,"format":".3f","title":null}},"y":{"field":"a","type":"quantitative","scale":{"domain":[0,360],"nice":false},"axis":{"values":[0,100,200,300],"grid":true,"title":null}}}},{"mark":{"type":"line","strokeOpacity":0},"encoding":{"x":{"field":"f","type":"quantitative","axis":{"orient":"top","values":[0.005],"labels":false,"grid":false,"title":null}},"y":{"field":"a","type":"quantitative","axis":null}}}]},
{"width":132,"height":222,"data":{"name":"2008-12-22"},"title":{"text":"2008-12-22","offset":3},"resolve":{"axis":{"x":"independent","y":"independent"}},"layer":[{"mark":{"type":"line","clip":true},"encoding":{"x":{"field":"f","type":"quantitative","scale":{"domain":[0,0.00603],"nice":false,"zero":false},"axis":{"values":[0.005],"grid":true,"format":".3f","title":null}},"y":{"field":"a","type":"quantitative","scale":{"domain":[0,360],"nice":false},"axis":{"values":[0,100,200,300],"grid":true,"title":null}}}},{"mark":{"type":"line","strokeOpacity":0},"encoding":{"x":{"field":"f","type":"quantitative","axis":{"orient":"top","values":[0.005],"labels":false,"grid":false,"title":null}},"y":{"field":"a","type":"quantitative","axis":null}}}]},
{"width":133,"height":222,"data":{"name":"2008-12-23"},"title":{"text":"2008-12-23","offset":3},"resolve":{"axis":{"x":"independent","y":"independent"}},"layer":[{"mark":{"type":"line","clip":true},"encoding":{"x":{"field":"f","type":"quantitative","scale":{"domain":[0,0.00612],"nice":false,"zero":false},"axis":{"values":[0.005],"grid":true,"format":".3f","title":null}},"y":{"field":"a","type":"quantitative","scale":{"domain":[0,360],"nice":false},"axis":{"values":[0,100,200,300],"grid":true,"title":null}}}},{"mark":{"type":"line","strokeOpacity":0},"encoding":{"x":{"field":"f","type":"quantitative","axis":{"orient":"top","values":[0.005],"labels":false,"grid":false,"title":null}},"y":{"field":"a","type":"quantitative","axis":null}}}]}
],"spacing":36,"bounds":"flush","title":{"text":"（d）2008年12月18-23日寒潮过程","orient":"bottom","anchor":"start","frame":"group","align":"center","dx":566,"offset":11,"fontSize":19,"font":"DejaVu Serif, Noto Sans CJK SC"}},
{"hconcat":[
{"width":44,"height":10,"data":{"values":[]},"mark":{"type":"point","opacity":0}},
{"width":136,"height":219,"data":{"name":"2009-09-17"},"title":{"text":"2009-09-17","offset":6},"resolve":{"axis":{"x":"independent","y":"independent"}},"layer":[{"mark":{"type":"line","clip":true},"encoding":{"x":{"field":"f","type":"quantitative","scale":{"domain":[0,0.00626],"nice":false,"zero":false},"axis":{"values":[0.005],"grid":true,"format":".3f","labelPadding":25,"title":null}},"y":{"field":"a","type":"quantitative","scale":{"domain":[0,360],"nice":false},"axis":{"values":[0,100,200,300],"grid":true,"title":"振幅/count","titleFontSize":18,"titlePadding":4,"minExtent":34,"maxExtent":34}}}},{"mark":{"type":"line","strokeOpacity":0},"encoding":{"x":{"field":"f","type":"quantitative","axis":{"orient":"top","values":[0.005],"labels":false,"grid":false,"title":null}},"y":{"field":"a","type":"quantitative","axis":null}}}]},
{"width":133,"height":219,"data":{"name":"2009-09-18"},"title":{"text":"2009-09-18","offset":6},"resolve":{"axis":{"x":"independent","y":"independent"}},"layer":[{"mark":{"type":"line","clip":true},"encoding":{"x":{"field":"f","type":"quantitative","scale":{"domain":[0,0.00612],"nice":false,"zero":false},"axis":{"values":[0.005],"grid":true,"format":".3f","labelPadding":25,"title":null}},"y":{"field":"a","type":"quantitative","scale":{"domain":[0,360],"nice":false},"axis":{"values":[0,100,200,300],"grid":true,"title":null}}}},{"mark":{"type":"line","strokeOpacity":0},"encoding":{"x":{"field":"f","type":"quantitative","axis":{"orient":"top","values":[0.005],"labels":false,"grid":false,"title":null}},"y":{"field":"a","type":"quantitative","axis":null}}}]},
{"width":133,"height":219,"data":{"name":"2009-09-19"},"title":{"text":"2009-09-19","offset":6},"resolve":{"axis":{"x":"independent","y":"independent"}},"layer":[{"mark":{"type":"line","clip":true},"encoding":{"x":{"field":"f","type":"quantitative","scale":{"domain":[0,0.00612],"nice":false,"zero":false},"axis":{"values":[0.005],"grid":true,"format":".3f","labelPadding":25,"title":"频率/Hz","titleFontSize":20,"titleX":155,"titlePadding":0,"minExtent":26,"maxExtent":26}},"y":{"field":"a","type":"quantitative","scale":{"domain":[0,360],"nice":false},"axis":{"values":[0,100,200,300],"grid":true,"title":null}}}},{"mark":{"type":"line","strokeOpacity":0},"encoding":{"x":{"field":"f","type":"quantitative","axis":{"orient":"top","values":[0.005],"labels":false,"grid":false,"title":null}},"y":{"field":"a","type":"quantitative","axis":null}}}]},
{"width":132,"height":219,"data":{"name":"2009-09-20"},"title":{"text":"2009-09-20","offset":6},"resolve":{"axis":{"x":"independent","y":"independent"}},"layer":[{"mark":{"type":"line","clip":true},"encoding":{"x":{"field":"f","type":"quantitative","scale":{"domain":[0,0.00604],"nice":false,"zero":false},"axis":{"values":[0.005],"grid":true,"format":".3f","labelPadding":25,"title":null}},"y":{"field":"a","type":"quantitative","scale":{"domain":[0,360],"nice":false},"axis":{"values":[0,100,200,300],"grid":true,"title":null}}}},{"mark":{"type":"line","strokeOpacity":0},"encoding":{"x":{"field":"f","type":"quantitative","axis":{"orient":"top","values":[0.005],"labels":false,"grid":false,"title":null}},"y":{"field":"a","type":"quantitative","axis":null}}}]},
{"width":137,"height":219,"data":{"name":"2009-09-21"},"title":{"text":"2009-09-21","offset":6},"resolve":{"axis":{"x":"independent","y":"independent"}},"layer":[{"mark":{"type":"line","clip":true},"encoding":{"x":{"field":"f","type":"quantitative","scale":{"domain":[0,0.00629],"nice":false,"zero":false},"axis":{"values":[0.005],"grid":true,"format":".3f","labelPadding":25,"title":null}},"y":{"field":"a","type":"quantitative","scale":{"domain":[0,360],"nice":false},"axis":{"values":[0,100,200,300],"grid":true,"title":null}}}},{"mark":{"type":"line","strokeOpacity":0},"encoding":{"x":{"field":"f","type":"quantitative","axis":{"orient":"top","values":[0.005],"labels":false,"grid":false,"title":null}},"y":{"field":"a","type":"quantitative","axis":null}}}]},
{"width":140,"height":219,"data":{"name":"2009-09-22"},"title":{"text":"2009-09-22","offset":6},"resolve":{"axis":{"x":"independent","y":"independent"}},"layer":[{"mark":{"type":"line","clip":true},"encoding":{"x":{"field":"f","type":"quantitative","scale":{"domain":[0,0.00642],"nice":false,"zero":false},"axis":{"values":[0.005],"grid":true,"format":".3f","labelPadding":25,"title":null}},"y":{"field":"a","type":"quantitative","scale":{"domain":[0,360],"nice":false},"axis":{"values":[0,100,200,300],"grid":true,"title":null}}}},{"mark":{"type":"line","strokeOpacity":0},"encoding":{"x":{"field":"f","type":"quantitative","axis":{"orient":"top","values":[0.005],"labels":false,"grid":false,"title":null}},"y":{"field":"a","type":"quantitative","axis":null}}}]}
],"spacing":38,"bounds":"flush","title":{"text":"（e）2008年09月17-22日寒潮过程","orient":"bottom","anchor":"start","frame":"group","align":"center","dx":564,"offset":5,"fontSize":19,"font":"DejaVu Serif, Noto Sans CJK SC"}}
],
"config":{
"view":{"stroke":null},
"font":"DejaVu Serif",
"title":{"font":"DejaVu Serif, Noto Sans CJK SC","fontSize":17,"fontWeight":"normal","color":"#111111","frame":"group","anchor":"middle"},
"axis":{"domainColor":"#111111","domainWidth":1.6,"tickColor":"#111111","tickWidth":1.5,"tickSize":-17,"gridColor":"#222222","gridDash":[3.5,2.5],"gridWidth":1,"gridOpacity":1,"labelFont":"DejaVu Serif","labelFontSize":16,"labelColor":"#111111","titleFont":"DejaVu Serif, Noto Sans CJK SC","titleFontWeight":"normal","titleColor":"#111111","labelFlush":false},
"axisY":{"labelPadding":19},
"axisX":{"labelPadding":23,"labelFontSize":15},
"line":{"color":"#222222","strokeWidth":1.3}
}
}
